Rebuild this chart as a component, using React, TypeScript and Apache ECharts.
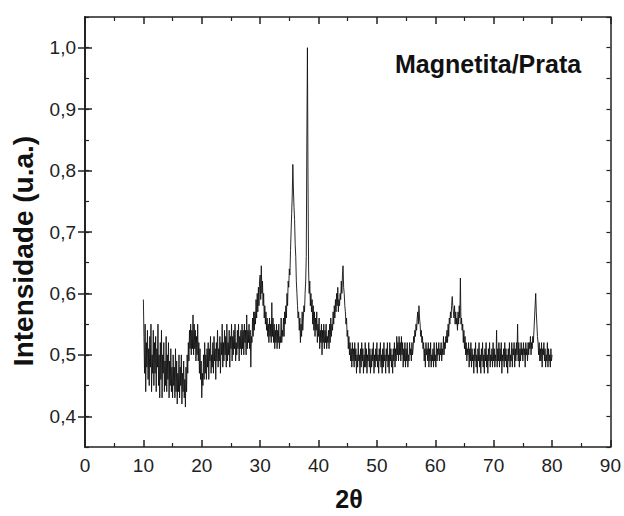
import React, { useEffect, useRef } from "react";
import * as echarts from "echarts";

// 2θ starts at 10° with a 0.1° step; one row per degree (10 values each)
const thetaStart = 10;
const thetaStep = 0.1;
const intensity: number[] = [
  /* 10 */ 0.59, 0.53, 0.47, 0.55, 0.44, 0.52, 0.48, 0.54, 0.46, 0.51,
  /* 11 */ 0.45, 0.53, 0.48, 0.55, 0.44, 0.50, 0.47, 0.54, 0.45, 0.52,
  /* 12 */ 0.47, 0.53, 0.44, 0.51, 0.48, 0.55, 0.45, 0.50, 0.43, 0.52,
  /* 13 */ 0.46, 0.54, 0.43, 0.50, 0.47, 0.52, 0.44, 0.49, 0.45, 0.53,
  /* 14 */ 0.44, 0.50, 0.46, 0.52, 0.43, 0.49, 0.45, 0.51, 0.44, 0.48,
  /* 15 */ 0.43, 0.50, 0.45, 0.48, 0.43, 0.51, 0.44, 0.49, 0.42, 0.47,
  /* 16 */ 0.44, 0.50, 0.43, 0.48, 0.45, 0.50, 0.42, 0.47, 0.44, 0.49,
  /* 17 */ 0.43, 0.46, 0.415, 0.48, 0.44, 0.50, 0.47, 0.52, 0.49, 0.54,
  /* 18 */ 0.51, 0.55, 0.50, 0.54, 0.51, 0.565, 0.50, 0.55, 0.51, 0.54,
  /* 19 */ 0.49, 0.53, 0.50, 0.55, 0.49, 0.52, 0.47, 0.51, 0.46, 0.49,
  /* 20 */ 0.43, 0.47, 0.45, 0.50, 0.46, 0.52, 0.47, 0.50, 0.46, 0.51,
  /* 21 */ 0.48, 0.52, 0.46, 0.51, 0.49, 0.53, 0.47, 0.50, 0.48, 0.52,
  /* 22 */ 0.47, 0.53, 0.49, 0.51, 0.46, 0.52, 0.49, 0.54, 0.48, 0.51,
  /* 23 */ 0.49, 0.53, 0.47, 0.52, 0.50, 0.55, 0.48, 0.52, 0.49, 0.54,
  /* 24 */ 0.50, 0.53, 0.48, 0.55, 0.49, 0.52, 0.50, 0.54, 0.48, 0.53,
  /* 25 */ 0.51, 0.55, 0.49, 0.53, 0.50, 0.54, 0.51, 0.55, 0.49, 0.52,
  /* 26 */ 0.50, 0.54, 0.51, 0.55, 0.49, 0.53, 0.51, 0.54, 0.50, 0.55,
  /* 27 */ 0.51, 0.54, 0.50, 0.55, 0.52, 0.54, 0.50, 0.565, 0.51, 0.54,
  /* 28 */ 0.52, 0.55, 0.51, 0.54, 0.48, 0.53, 0.52, 0.56, 0.53, 0.57,
  /* 29 */ 0.54, 0.57, 0.55, 0.59, 0.56, 0.60, 0.57, 0.61, 0.58, 0.62,
  /* 30 */ 0.63, 0.59, 0.645, 0.60, 0.62, 0.58, 0.60, 0.56, 0.58, 0.55,
  /* 31 */ 0.57, 0.54, 0.56, 0.53, 0.55, 0.52, 0.56, 0.53, 0.55, 0.52,
  /* 32 */ 0.585, 0.53, 0.56, 0.52, 0.55, 0.51, 0.54, 0.52, 0.55, 0.51,
  /* 33 */ 0.54, 0.52, 0.55, 0.51, 0.53, 0.52, 0.56, 0.52, 0.54, 0.53,
  /* 34 */ 0.56, 0.53, 0.57, 0.55, 0.58, 0.56, 0.60, 0.58, 0.62, 0.61,
  /* 35 */ 0.64, 0.63, 0.67, 0.70, 0.73, 0.76, 0.81, 0.77, 0.74, 0.72,
  /* 36 */ 0.68, 0.66, 0.62, 0.60, 0.58, 0.56, 0.57, 0.54, 0.56, 0.52,
  /* 37 */ 0.55, 0.53, 0.57, 0.54, 0.56, 0.58, 0.57, 0.60, 0.62, 0.66,
  /* 38 */ 0.85, 1.0, 0.78, 0.64, 0.60, 0.62, 0.58, 0.60, 0.57, 0.59,
  /* 39 */ 0.55, 0.58, 0.54, 0.57, 0.53, 0.56, 0.54, 0.57, 0.52, 0.55,
  /* 40 */ 0.53, 0.56, 0.51, 0.54, 0.52, 0.55, 0.50, 0.54, 0.52, 0.55,
  /* 41 */ 0.51, 0.54, 0.52, 0.55, 0.51, 0.53, 0.52, 0.54, 0.51, 0.55,
  /* 42 */ 0.52, 0.56, 0.53, 0.55, 0.54, 0.57, 0.55, 0.58, 0.56, 0.59,
  /* 43 */ 0.57, 0.60, 0.58, 0.61, 0.57, 0.59, 0.58, 0.60, 0.59, 0.62,
  /* 44 */ 0.60, 0.63, 0.645, 0.61, 0.60, 0.58, 0.57, 0.55, 0.56, 0.53,
  /* 45 */ 0.54, 0.51, 0.53, 0.50, 0.52, 0.49, 0.51, 0.48, 0.52, 0.49,
  /* 46 */ 0.51, 0.48, 0.52, 0.49, 0.51, 0.47, 0.50, 0.48, 0.52, 0.49,
  /* 47 */ 0.50, 0.47, 0.51, 0.48, 0.52, 0.49, 0.51, 0.47, 0.50, 0.48,
  /* 48 */ 0.52, 0.48, 0.51, 0.47, 0.50, 0.49, 0.52, 0.48, 0.51, 0.47,
  /* 49 */ 0.50, 0.48, 0.51, 0.49, 0.52, 0.47, 0.50, 0.48, 0.51, 0.49,
  /* 50 */ 0.52, 0.48, 0.50, 0.47, 0.51, 0.49, 0.52, 0.48, 0.50, 0.47,
  /* 51 */ 0.51, 0.48, 0.52, 0.49, 0.50, 0.47, 0.51, 0.49, 0.52, 0.48,
  /* 52 */ 0.50, 0.47, 0.52, 0.49, 0.51, 0.48, 0.50, 0.47, 0.51, 0.49,
  /* 53 */ 0.52, 0.48, 0.51, 0.49, 0.53, 0.50, 0.52, 0.49, 0.53, 0.50,
  /* 54 */ 0.52, 0.49, 0.53, 0.50, 0.52, 0.48, 0.51, 0.49, 0.52, 0.48,
  /* 55 */ 0.51, 0.49, 0.52, 0.48, 0.50, 0.49, 0.52, 0.50, 0.51, 0.49,
  /* 56 */ 0.52, 0.50, 0.51, 0.53, 0.52, 0.54, 0.53, 0.55, 0.54, 0.56,
  /* 57 */ 0.57, 0.55, 0.58, 0.56, 0.55, 0.53, 0.54, 0.52, 0.53, 0.51,
  /* 58 */ 0.52, 0.49, 0.51, 0.48, 0.52, 0.50, 0.51, 0.49, 0.52, 0.48,
  /* 59 */ 0.51, 0.49, 0.52, 0.48, 0.50, 0.49, 0.51, 0.48, 0.52, 0.49,
  /* 60 */ 0.50, 0.48, 0.52, 0.49, 0.51, 0.50, 0.52, 0.49, 0.51, 0.50,
  /* 61 */ 0.52, 0.49, 0.51, 0.50, 0.53, 0.50, 0.52, 0.51, 0.53, 0.52,
  /* 62 */ 0.54, 0.52, 0.55, 0.53, 0.56, 0.55, 0.57, 0.56, 0.58, 0.595,
  /* 63 */ 0.58, 0.57, 0.56, 0.58, 0.55, 0.57, 0.55, 0.56, 0.54, 0.57,
  /* 64 */ 0.55, 0.58, 0.56, 0.625, 0.55, 0.56, 0.54, 0.55, 0.52, 0.54,
  /* 65 */ 0.51, 0.53, 0.50, 0.52, 0.49, 0.51, 0.50, 0.52, 0.48, 0.51,
  /* 66 */ 0.49, 0.52, 0.48, 0.51, 0.49, 0.50, 0.47, 0.51, 0.49, 0.52,
  /* 67 */ 0.48, 0.50, 0.47, 0.51, 0.49, 0.52, 0.48, 0.50, 0.47, 0.51,
  /* 68 */ 0.49, 0.52, 0.48, 0.50, 0.47, 0.51, 0.49, 0.52, 0.48, 0.50,
  /* 69 */ 0.47, 0.51, 0.49, 0.52, 0.48, 0.50, 0.49, 0.51, 0.48, 0.52,
  /* 70 */ 0.49, 0.51, 0.48, 0.50, 0.49, 0.54, 0.48, 0.51, 0.49, 0.52,
  /* 71 */ 0.48, 0.51, 0.49, 0.52, 0.47, 0.50, 0.49, 0.51, 0.48, 0.52,
  /* 72 */ 0.49, 0.51, 0.48, 0.50, 0.47, 0.51, 0.49, 0.52, 0.48, 0.50,
  /* 73 */ 0.49, 0.52, 0.48, 0.51, 0.50, 0.52, 0.48, 0.51, 0.49, 0.52,
  /* 74 */ 0.50, 0.55, 0.49, 0.52, 0.48, 0.51, 0.49, 0.52, 0.50, 0.51,
  /* 75 */ 0.49, 0.52, 0.50, 0.51, 0.48, 0.52, 0.50, 0.51, 0.49, 0.52,
  /* 76 */ 0.50, 0.52, 0.51, 0.53, 0.50, 0.52, 0.51, 0.53, 0.52, 0.54,
  /* 77 */ 0.56, 0.58, 0.60, 0.57, 0.55, 0.53, 0.52, 0.50, 0.52, 0.49,
  /* 78 */ 0.51, 0.49, 0.52, 0.48, 0.51, 0.50, 0.52, 0.49, 0.51, 0.48,
  /* 79 */ 0.50, 0.49, 0.52, 0.48, 0.51, 0.49, 0.50, 0.48, 0.51, 0.49,
  /* 80 */ 0.50,
];

const yMajorTicks = [0.4, 0.5, 0.6, 0.7, 0.8, 0.9, 1.0];
const xTitle = "2θ";
const yTitle = "Intensidade (u.a.)";
const sampleLabel = "Magnetita/Prata";

const FONT = "Liberation Sans, Arial, sans-serif";

export default function App() {
  const ref = useRef<HTMLDivElement>(null);
  useEffect(() => {
    if (!ref.current) return;
    const chart = echarts.init(ref.current, undefined, { renderer: "svg" });
    const data = intensity.map((v, i) => [
      +(thetaStart + i * thetaStep).toFixed(2),
      v,
    ]);
    const axisLine = { show: true, lineStyle: { color: "#222", width: 1.5 } };
    const fmtY = (v: number) => v.toFixed(1).replace(".", ",");
    const xCommon = {
      type: "value" as const,
      min: 0,
      max: 90,
      interval: 10,
      splitLine: { show: false },
      axisLine,
      axisTick: { inside: true, length: 7, lineStyle: { color: "#222", width: 1.5 } },
      minorTick: { show: true, splitNumber: 2, length: 4, lineStyle: { color: "#222", width: 1.2 } },
    };
    const yMinor = {
      type: "value" as const,
      min: 0.35,
      max: 1.05,
      interval: 0.05,
      splitLine: { show: false },
      axisLine,
      axisLabel: { show: false },
      axisTick: { inside: true, length: 4, lineStyle: { color: "#222", width: 1.2 } },
    };
    const yMajor = {
      type: "value" as const,
      min: 0.35,
      max: 1.05,
      splitLine: { show: false },
      axisLine,
      axisTick: {
        inside: true,
        length: 7,
        customValues: yMajorTicks,
        lineStyle: { color: "#222", width: 1.5 },
      },
    };
    chart.setOption({
      animation: false,
      backgroundColor: "#fff",
      grid: { left: 85, right: 11, top: 17, bottom: 69, containLabel: false },
      xAxis: [
        {
          ...xCommon,
          position: "bottom",
          axisLabel: { fontFamily: FONT, fontSize: 19, color: "#222", margin: 9 },
        },
        { ...xCommon, position: "top", axisLabel: { show: false } },
      ],
      yAxis: [
        {
          ...yMajor,
          position: "left",
          axisLabel: {
            fontFamily: FONT,
            fontSize: 19,
            color: "#222",
            margin: 9,
            customValues: yMajorTicks,
            formatter: fmtY,
          },
        },
        { ...yMajor, position: "right", axisLabel: { show: false } },
        { ...yMinor, position: "left" },
        { ...yMinor, position: "right" },
      ],
      graphic: [
        {
          type: "text",
          x: 395,
          y: 64,
          style: {
            text: sampleLabel,
            fontFamily: FONT,
            fontSize: 25,
            fontWeight: "bold",
            fill: "#111",
            verticalAlign: "middle",
          },
        },
        {
          type: "text",
          x: 23,
          y: 251,
          rotation: Math.PI / 2,
          style: {
            text: yTitle,
            fontFamily: FONT,
            fontSize: 28,
            fontWeight: "bold",
            fill: "#111",
            align: "center",
            verticalAlign: "middle",
          },
        },
        {
          type: "text",
          x: 349,
          y: 499,
          style: {
            text: xTitle,
            fontFamily: FONT,
            fontSize: 25,
            fontWeight: "bold",
            fill: "#111",
            align: "center",
            verticalAlign: "middle",
          },
        },
      ],
      series: [
        {
          type: "line",
          data,
          showSymbol: false,
          symbol: "none",
          lineStyle: { color: "#111", width: 0.9 },
        },
      ],
    });
    return () => chart.dispose();
  }, []);
  return (
    <div
      ref={ref}
      style={{ position: "fixed", left: 0, top: 0, width: 624, height: 516 }}
    />
  );
}
